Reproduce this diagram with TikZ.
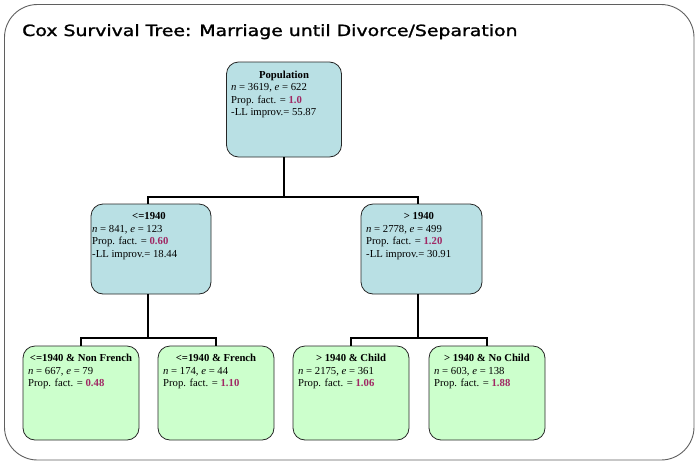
\documentclass[tikz,border=0pt]{standalone}
\usepackage{fontspec}
\setmainfont{Liberation Serif}
\newfontfamily\titlefont[FakeBold=1.3]{DejaVu Sans}
\usetikzlibrary{calc}
\definecolor{boxblue}{RGB}{185,224,228}
\definecolor{boxgreen}{RGB}{204,255,204}
\definecolor{numred}{RGB}{160,40,100}
\definecolor{framegray}{RGB}{95,95,95}
\newcommand{\nv}[1]{\textbf{\textcolor{numred}{#1}}}
\tikzset{
  treebox/.style={draw=black!85, line width=0.8pt, rounded corners=12pt, inner sep=0pt},
  bluebox/.style={treebox, fill=boxblue},
  greenbox/.style={treebox, fill=boxgreen},
  ttl/.style={font=\fontsize{10.7}{12}\selectfont\bfseries, anchor=base, inner sep=0pt},
  ln/.style={font=\fontsize{10.7}{12}\selectfont, anchor=base west, inner sep=0pt},
  link/.style={line width=2.6pt, draw=black}
}
\begin{document}
\begin{tikzpicture}[x=1pt, y=-1pt]
\useasboundingbox (0,0) rectangle (695,461);
\draw[framegray, line width=0.9pt, rounded corners=33pt] (4.5,4.5) rectangle (694,460);
\node[font=\titlefont\fontsize{15.5}{18}\selectfont, anchor=base west, inner sep=0pt] (title) at (22,36) {\scalebox{1.218}[1]{Cox Survival Tree: Marriage until Divorce/Separation}};

% boxes
\node[bluebox, minimum width=115pt, minimum height=95pt] (pop) at (284,109.5) {};
\node[bluebox, minimum width=120pt, minimum height=90pt] (le) at (151,249) {};
\node[bluebox, minimum width=121pt, minimum height=90pt] (gt) at (421.5,249) {};
\node[greenbox, minimum width=116pt, minimum height=94pt] (l1) at (81,393) {};
\node[greenbox, minimum width=116pt, minimum height=94pt] (l2) at (216,393) {};
\node[greenbox, minimum width=116pt, minimum height=94pt] (l3) at (351,393) {};
\node[greenbox, minimum width=116pt, minimum height=94pt] (l4) at (487,393) {};

% connectors
\coordinate (j1) at (284,197);
\coordinate (j2) at (148,338);
\coordinate (j3) at (418,338);
\draw[link] (pop.south) -- (j1);
\draw[link] ([xshift=-3pt]le.north) |- (j1) -| ([xshift=-3.5pt]gt.north);
\draw[link] ([xshift=-3pt]le.south) -- (j2);
\draw[link] (l1.north) |- (j2) -| (l2.north);
\draw[link] ([xshift=-3.5pt]gt.south) -- (j3);
\draw[link] (l3.north) |- (j3) -| (l4.north);

% texts: population
\node[ttl] (popt) at (284,78) {Population};
\node[ln] (pop1) at (231,90.5) {\textit{n} = 3619, \textit{e} = 622};
\node[ln] (pop2) at (231,103) {Prop. fact. = \nv{1.0}};
\node[ln] (pop3) at (231,115.5) {-LL improv.= 55.87};

% <=1940
\node[ttl] (let) at (149,219.5) {<=1940};
\node[ln] (le1) at (92,232) {\textit{n} = 841, \textit{e} = 123};
\node[ln] (le2) at (92,244.5) {Prop. fact. = \nv{0.60}};
\node[ln] (le3) at (92,257) {-LL improv.= 18.44};

% > 1940
\node[ttl] (gtt) at (419,219.5) {> 1940};
\node[ln] (gt1) at (366,232) {\textit{n} = 2778, \textit{e} = 499};
\node[ln] (gt2) at (366,244.5) {Prop. fact. = \nv{1.20}};
\node[ln] (gt3) at (366,257) {-LL improv.= 30.91};

% leaves
\node[ttl] (l1t) at (81,361.5) {<=1940 \& Non French};
\node[ln] (l1a) at (28,374) {\textit{n} = 667, \textit{e} = 79};
\node[ln] (l1b) at (28,386.5) {Prop. fact. = \nv{0.48}};

\node[ttl] (l2t) at (216,361.5) {<=1940 \& French};
\node[ln] (l2a) at (163,374) {\textit{n} = 174, \textit{e} = 44};
\node[ln] (l2b) at (163,386.5) {Prop. fact. = \nv{1.10}};

\node[ttl] (l3t) at (351,361.5) {> 1940 \& Child};
\node[ln] (l3a) at (298,374) {\textit{n} = 2175, \textit{e} = 361};
\node[ln] (l3b) at (298,386.5) {Prop. fact. = \nv{1.06}};

\node[ttl] (l4t) at (487,361.5) {> 1940 \& No Child};
\node[ln] (l4a) at (434,374) {\textit{n} = 603, \textit{e} = 138};
\node[ln] (l4b) at (434,386.5) {Prop. fact. = \nv{1.88}};
\end{tikzpicture}
\end{document}
